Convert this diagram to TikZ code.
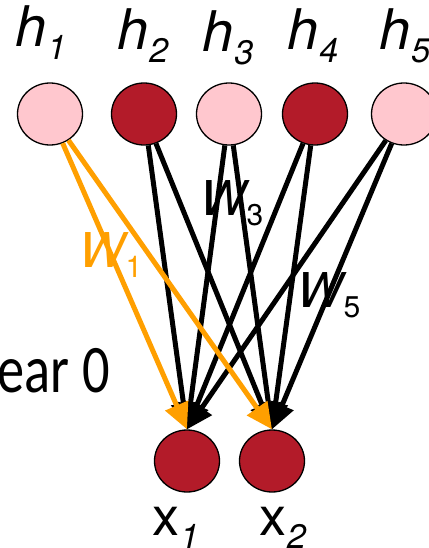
\documentclass[tikz,border=0pt]{standalone}
\usepackage{fontspec}
\setmainfont{TeX Gyre Heros}
\newfontfamily\calibrifont{Carlito}
\usetikzlibrary{shapes.geometric,arrows.meta}
\definecolor{UnitOff}{HTML}{FFC7CE}
\definecolor{UnitOn}{HTML}{B31B29}
\definecolor{WeightHi}{HTML}{FF9F00}
\newcommand{\unitfont}{\fontsize{56}{62}\selectfont\itshape}
\newcommand{\weightfont}{\fontsize{48}{54}\selectfont\itshape}
\newcommand{\itsub}[1]{\kern1pt\raisebox{-13pt}{\fontsize{34}{38}\selectfont\itshape #1}}
\newcommand{\upsub}[1]{\kern1pt\raisebox{-10pt}{\fontsize{30}{34}\selectfont\upshape #1}}
\tikzset{
  unit/.style={ellipse, draw=black, line width=1.3pt, minimum width=65pt, minimum height=62pt, inner sep=0pt},
  unitoff/.style={unit, fill=UnitOff},
  uniton/.style={unit, fill=UnitOn},
  wire/.style={-{Triangle[length=26pt,width=24pt]}, line width=5pt},
  lbl/.style={anchor=base west, inner sep=0pt},
}

\begin{document}
\begin{tikzpicture}[x=1pt,y=-1pt]
  \useasboundingbox (0,0) rectangle (428,548);

  %% hidden units
  \node[unitoff] (h1) at (50,114) {};
  \node[uniton]  (h2) at (144,114) {};
  \node[unitoff] (h3) at (229,114) {};
  \node[uniton]  (h4) at (315,114) {};
  \node[unitoff] (h5) at (404,114) {};
  \node[lbl, font=\unitfont] (lh1) at (15,47) {h\itsub{1}};
  \node[lbl, font=\unitfont] (lh2) at (117,50) {h\itsub{2}};
  \node[lbl, font=\unitfont] (lh3) at (202,52) {h\itsub{3}};
  \node[lbl, font=\unitfont] (lh4) at (287,50) {h\itsub{4}};
  \node[lbl, font=\unitfont] (lh5) at (379,50) {h\itsub{5}};

  %% visible units
  \node[uniton] (x1) at (187,461) {};
  \node[uniton] (x2) at (272,461) {};
  \node[lbl, font=\fontsize{54}{60}\selectfont] (lx1) at (152,535) {x\itsub{1}};
  \node[lbl, font=\fontsize{54}{60}\selectfont] (lx2) at (259,535) {x\itsub{2}};

  %% weights
  \foreach \i in {2,...,5} {
    \draw[wire] (h\i) -- (x1.north);
    \draw[wire] (h\i) -- (x2.north);
  }
  \draw[wire, WeightHi] (h1) -- (x1.north);
  \draw[wire, WeightHi] (h1) -- (x2.north);
  \node[lbl, font=\weightfont, text=WeightHi] (w1) at (79,267) {W\upsub{1}};
  \node[lbl, font=\weightfont] (w3) at (200,215) {W\upsub{3}};
  \node[lbl, font=\weightfont] (w5) at (297,307) {W\upsub{5}};

  %% cut-off text at the left
  \node[anchor=base east, inner sep=0pt, font=\calibrifont\fontsize{68}{76}\selectfont] (cut) at (110,392) {\scalebox{0.8}[1]{ear 0}};
\end{tikzpicture}
\end{document}
